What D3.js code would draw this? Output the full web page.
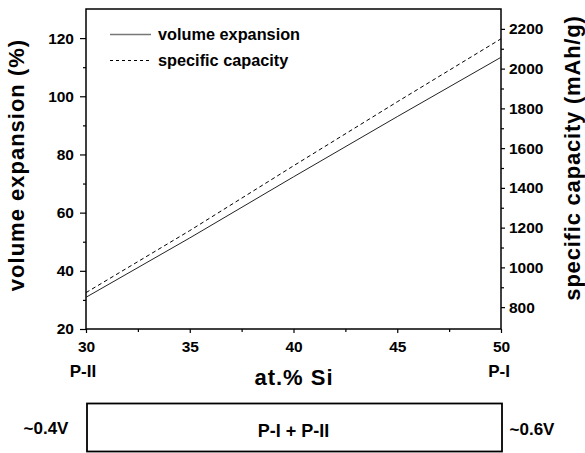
<!DOCTYPE html>
<html>
<head>
<meta charset="utf-8">
<script src="https://cdn.jsdelivr.net/npm/d3@7/dist/d3.min.js"></script>
<style>
  html, body { margin: 0; padding: 0; background: #fff; }
  svg { display: block; }
  text { font-family: "Liberation Sans", Arial, Helvetica, sans-serif; font-weight: bold; fill: #000; }
</style>
</head>
<body>
<svg id="chart" width="585" height="453"></svg>
<script>
// Si content (at.%) and the two properties plotted against it
const siContent = [30, 35, 40, 45, 50];
const volumeExpansion = [30.9, 51.3, 72.3, 93.0, 113.4];       // %
const specificCapacity = [873, 1185, 1511, 1833, 2150];         // mAh/g

const xTicks = [30, 35, 40, 45, 50];
const xMinorTicks = [32.5, 37.5, 42.5, 47.5];
const leftTicks = [20, 40, 60, 80, 100, 120];
const leftMinorTicks = [30, 50, 70, 90, 110];
const rightTicks = [800, 1000, 1200, 1400, 1600, 1800, 2000, 2200];
const rightMinorTicks = [900, 1100, 1300, 1500, 1700, 1900, 2100];

const seriesNames = ["volume expansion", "specific capacity"];
const phaseEnds = ["P-II", "P-I"];
const phaseRegion = "P-I + P-II";
const voltageEnds = ["~0.4V", "~0.6V"];

const svg = d3.select("#chart");
const plot = { left: 86, right: 501, top: 9, bottom: 329 };

const x = d3.scaleLinear().domain([30, 50]).range([plot.left, plot.right]);
const yL = d3.scaleLinear().domain([20, 130]).range([plot.bottom, plot.top]);
const yR = d3.scaleLinear().domain([690, 2300]).range([plot.bottom, plot.top]);

// frame
svg.append("rect")
  .attr("x", plot.left).attr("y", plot.top)
  .attr("width", plot.right - plot.left).attr("height", plot.bottom - plot.top)
  .attr("fill", "none").attr("stroke", "#000").attr("stroke-width", 1.5);

function styleAxis(g) {
  g.select(".domain").remove();
  g.selectAll(".tick line").attr("stroke", "#000").attr("stroke-width", 1.2);
  g.selectAll(".tick text").style("font-size", "15.5px");
}

// bottom axis
svg.append("g").attr("transform", `translate(0,${plot.bottom})`)
  .call(d3.axisBottom(x).tickValues(xTicks).tickSize(4).tickPadding(8).tickFormat(d3.format("d")))
  .call(styleAxis);
svg.append("g").attr("transform", `translate(0,${plot.bottom})`)
  .call(d3.axisBottom(x).tickValues(xMinorTicks).tickSize(3).tickFormat(""))
  .call(styleAxis);

// left axis
svg.append("g").attr("transform", `translate(${plot.left},0)`)
  .call(d3.axisLeft(yL).tickValues(leftTicks).tickSize(6).tickPadding(6).tickFormat(d3.format("d")))
  .call(styleAxis);
svg.append("g").attr("transform", `translate(${plot.left},0)`)
  .call(d3.axisLeft(yL).tickValues(leftMinorTicks).tickSize(3).tickFormat(""))
  .call(styleAxis);

// right axis
svg.append("g").attr("transform", `translate(${plot.right},0)`)
  .call(d3.axisRight(yR).tickValues(rightTicks).tickSize(4).tickPadding(4).tickFormat(d3.format("d")))
  .call(styleAxis);
svg.append("g").attr("transform", `translate(${plot.right},0)`)
  .call(d3.axisRight(yR).tickValues(rightMinorTicks).tickSize(3).tickFormat(""))
  .call(styleAxis);

// data lines
const volLine = d3.line().x((d, i) => x(siContent[i])).y(d => yL(d));
const capLine = d3.line().x((d, i) => x(siContent[i])).y(d => yR(d));

svg.append("path").datum(volumeExpansion)
  .attr("d", volLine).attr("fill", "none")
  .attr("stroke", "#222").attr("stroke-width", 1);
svg.append("path").datum(specificCapacity)
  .attr("d", capLine).attr("fill", "none")
  .attr("stroke", "#000").attr("stroke-width", 1).attr("stroke-dasharray", "4,3");

// legend
const legend = svg.append("g");
legend.append("line").attr("x1", 110).attr("x2", 151).attr("y1", 34.5).attr("y2", 34.5)
  .attr("stroke", "#777").attr("stroke-width", 1.6);
legend.append("text").attr("x", 158).attr("y", 40).style("font-size", "16.3px").text(seriesNames[0]);
legend.append("line").attr("x1", 110).attr("x2", 151).attr("y1", 60.5).attr("y2", 60.5)
  .attr("stroke", "#000").attr("stroke-width", 1).attr("stroke-dasharray", "3,3");
legend.append("text").attr("x", 158).attr("y", 66).style("font-size", "16.3px").text(seriesNames[1]);

// axis titles
svg.append("text").attr("x", 294).attr("y", 385).attr("text-anchor", "middle")
  .style("font-size", "22px").style("letter-spacing", "1px").text("at.% Si");
svg.append("text").attr("transform", "translate(24,165) rotate(-90)").attr("text-anchor", "middle")
  .style("font-size", "22px").style("letter-spacing", "1px").text("volume expansion (%)");
svg.append("text").attr("transform", "translate(580,158) rotate(-90)").attr("text-anchor", "middle")
  .style("font-size", "22px").style("letter-spacing", "0.8px").text("specific capacity (mAh/g)");

// phase labels under the axis ends
svg.append("text").attr("x", x(30) - 3).attr("y", 377).attr("text-anchor", "middle")
  .style("font-size", "17px").text(phaseEnds[0]);
svg.append("text").attr("x", x(50) - 2).attr("y", 377).attr("text-anchor", "middle")
  .style("font-size", "17px").text(phaseEnds[1]);

// two-phase region box with voltages
svg.append("rect").attr("x", x(30) + 1).attr("y", 403.5)
  .attr("width", x(50) - x(30)).attr("height", 48)
  .attr("fill", "none").attr("stroke", "#000").attr("stroke-width", 1.8);
svg.append("text").attr("x", (x(30) + x(50)) / 2).attr("y", 437).attr("text-anchor", "middle")
  .style("font-size", "18px").text(phaseRegion);
svg.append("text").attr("x", 46).attr("y", 434).attr("text-anchor", "middle")
  .style("font-size", "17px").text(voltageEnds[0]);
svg.append("text").attr("x", 532).attr("y", 435).attr("text-anchor", "middle")
  .style("font-size", "17px").text(voltageEnds[1]);
</script>
</body>
</html>
